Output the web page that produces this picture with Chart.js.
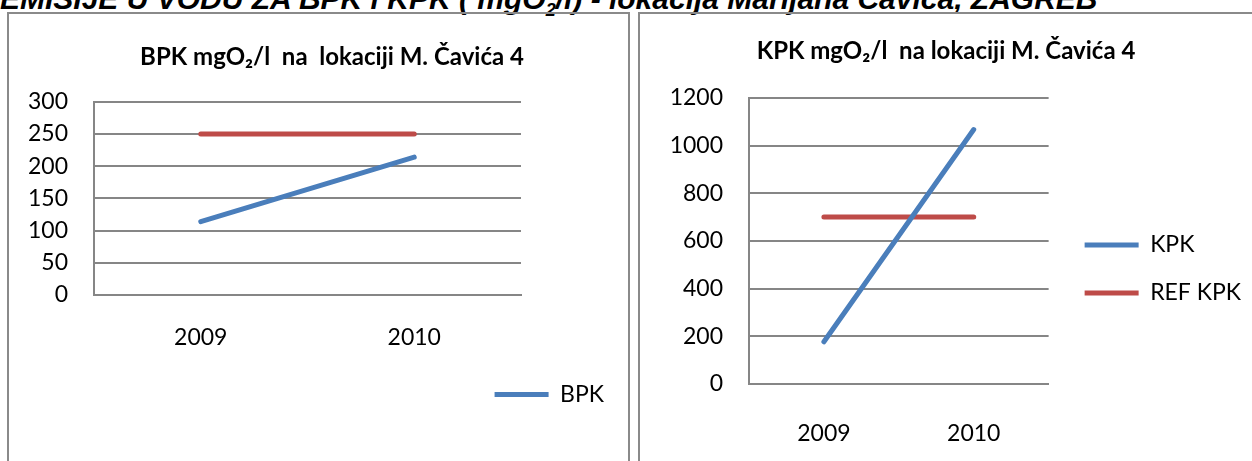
<!DOCTYPE html>
<html>
<head>
<meta charset="utf-8">
<script src="https://cdn.jsdelivr.net/npm/chart.js@4.4.0/dist/chart.umd.min.js"></script>
<style>
  html, body { margin: 0; padding: 0; width: 1252px; height: 461px; overflow: hidden; background: #fff; }
  #heading { position: absolute; left: 0; top: -16px; white-space: nowrap;
             font: italic bold 30px "Liberation Sans", Arial, sans-serif; line-height: 30px; color: #000; }
  .panel { position: absolute; top: 12px; height: 470px; border: 2px solid #8a8a8a; border-bottom: none; }
  #panelL { left: 7px; width: 619px; }
  #panelR { left: 638px; width: 700px; }
  canvas { position: absolute; }
</style>
</head>
<body>
<div id="heading">EMISIJE U VODU ZA BPK i KPK ( mgO<sub style="font-size:60%">2</sub>/l) - lokacija Marijana Čavića, ZAGREB</div>
<div class="panel" id="panelL"></div>
<div class="panel" id="panelR"></div>
<canvas id="bpkChart" width="646" height="448" style="left:9px;top:13px"></canvas>
<canvas id="kpkChart" width="610" height="512" style="left:641px;top:13px"></canvas>
<script>
// data
var years = ["2009", "2010"];
var bpk = [114, 214];
var refBpk = [250, 250];
var kpk = [177, 1067];
var refKpk = [700, 700];

var blue = "#4A7EBB";
var red = "#BE4B48";
var gridGray = "#868686";
var tickFont = { family: "Lato", size: 23 };
var titleFont = { family: "Lato", size: 24, weight: "bold" };

function lineSet(label, data, color) {
  return {
    label: label,
    data: data,
    borderColor: color,
    backgroundColor: color,
    borderWidth: 5,
    borderCapStyle: "round",
    pointRadius: 0,
    tension: 0
  };
}

function plainNumber(v) { return String(v); }

// left chart - BPK
new Chart(document.getElementById("bpkChart"), {
  type: "line",
  data: {
    labels: years,
    datasets: [lineSet("BPK", bpk, blue), lineSet("REF BPK", refBpk, red)]
  },
  options: {
    responsive: false,
    animation: false,
    layout: { padding: { left: 0, right: 0, top: 0, bottom: 45 } },
    plugins: {
      title: {
        display: true,
        text: "BPK mgO₂/l  na  lokaciji M. Čavića 4",
        font: titleFont,
        color: "#000",
        padding: { top: 30, bottom: 30 }
      },
      legend: {
        position: "bottom",
        align: "end",
        labels: {
          usePointStyle: true,
          pointStyle: "line",
          pointStyleWidth: 54,
          padding: 51,
          font: tickFont,
          color: "#000",
          filter: function (item) { return item.text === "BPK"; }
        }
      },
      tooltip: { enabled: false }
    },
    scales: {
      x: {
        offset: true,
        grid: { display: false },
        border: { color: gridGray, width: 2 },
        // mirrored so the labels are not clipped to the short axis box
        ticks: { mirror: true, padding: -56, font: tickFont, color: "#000" },
        afterFit: function (s) { s.height = 37; }
      },
      y: {
        min: 0,
        max: 300,
        ticks: { stepSize: 50, padding: 26, font: tickFont, color: "#000", callback: plainNumber },
        grid: { color: gridGray, lineWidth: 2, drawTicks: false },
        border: { color: gridGray, width: 2 },
        afterFit: function (s) { s.width = 85; }
      },
      // empty space right of the plot, like in the original
      y2: {
        position: "right",
        grid: { display: false },
        border: { display: false },
        ticks: { display: false },
        afterFit: function (s) { s.width = 134; }
      }
    }
  }
});

// right chart - KPK
new Chart(document.getElementById("kpkChart"), {
  type: "line",
  data: {
    labels: years,
    datasets: [lineSet("KPK", kpk, blue), lineSet("REF KPK", refKpk, red)]
  },
  options: {
    responsive: false,
    animation: false,
    layout: { padding: 0 },
    plugins: {
      title: {
        display: true,
        text: "KPK mgO₂/l  na lokaciji M. Čavića 4",
        font: titleFont,
        color: "#000",
        padding: { top: 24, bottom: 32 }
      },
      legend: {
        position: "right",
        align: "center",
        maxWidth: 260,
        labels: {
          usePointStyle: true,
          pointStyle: "line",
          pointStyleWidth: 54,
          padding: 25,
          font: tickFont,
          color: "#000"
        }
      },
      tooltip: { enabled: false }
    },
    scales: {
      x: {
        offset: true,
        grid: { display: false },
        border: { color: gridGray, width: 2 },
        ticks: { padding: 28, font: tickFont, color: "#000" },
        afterFit: function (s) { s.height = 141; }
      },
      y: {
        min: 0,
        max: 1200,
        ticks: { stepSize: 200, padding: 26, font: tickFont, color: "#000", callback: plainNumber },
        grid: { color: gridGray, lineWidth: 2, drawTicks: false },
        border: { color: gridGray, width: 2 },
        afterFit: function (s) { s.width = 108; }
      },
      y2: {
        position: "right",
        grid: { display: false },
        border: { display: false },
        ticks: { display: false },
        afterFit: function (s) { s.width = 11; }
      }
    }
  }
});
</script>
</body>
</html>
